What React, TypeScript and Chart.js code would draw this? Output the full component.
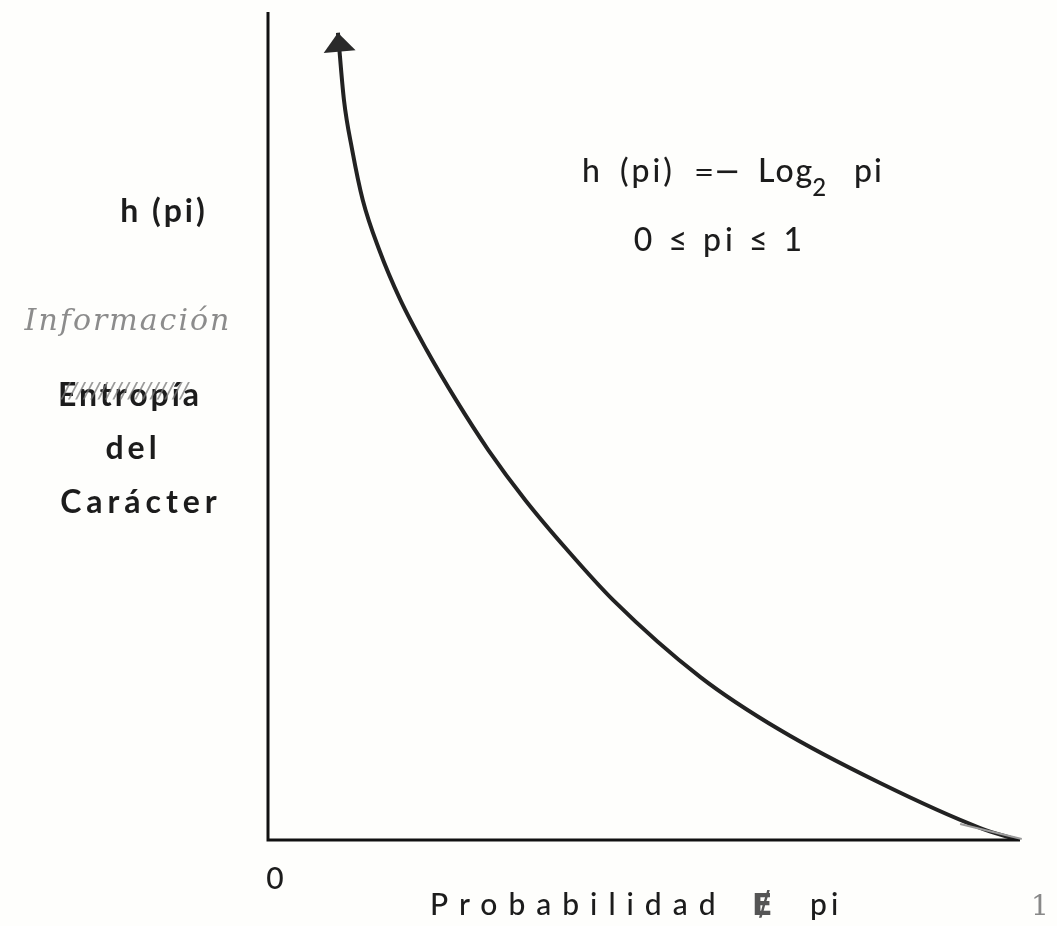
import React, { useEffect, useRef } from "react";
import { Chart, registerables } from "chart.js";

Chart.register(...registerables);

// Probability values (x)
const probabilities = [
  0.093, 0.101, 0.112, 0.126, 0.148, 0.176, 0.211, 0.25, 0.293, 0.342, 0.398, 0.459, 0.575, 0.681, 0.814, 0.947, 0.997,
];
// Information h(pi) values (y) (arbitrary units, axis 0..4)
const information = [
  3.9, 3.575, 3.333, 3.092, 2.85, 2.609, 2.367, 2.126, 1.884, 1.643, 1.401, 1.159, 0.787, 0.531, 0.275, 0.058, 0,
];

const yLabelLines = ["h (pi)", "Información", "Entropía", "del", "Carácter"];
const formulaParts = ["h", "(pi)", "=", "−", "Log", "2", "pi"];
const rangeLabel = "0 ≤ pi ≤ 1";
const xLabel = ["Probabilidad", "Ɇ", "pi"];
const xTickLabels = ["0", "1"];

const INK = "#1c1c1c";

const drawPlugin = {
  id: "handDrawn",
  beforeDraw(chart: any) {
    const ctx = chart.ctx;
    ctx.save();
    ctx.fillStyle = "#fefefc";
    ctx.fillRect(0, 0, chart.width, chart.height);
    ctx.restore();
  },
  afterDatasetsDraw(chart: any) {
    const ctx = chart.ctx;
    const { left, right, top, bottom } = chart.chartArea;
    ctx.save();
    // axes
    ctx.strokeStyle = "#111";
    ctx.lineWidth = 3;
    ctx.lineCap = "butt";
    ctx.beginPath();
    ctx.moveTo(left, top);
    ctx.lineTo(left, bottom);
    ctx.lineTo(right, bottom);
    ctx.stroke();

    // arrowhead at the first point of the curve
    const meta = chart.getDatasetMeta(0);
    const p0 = meta.data[0];
    const p1 = meta.data[1];
    const ang = Math.atan2(p0.y - p1.y, p0.x - p1.x);
    const len = 19;
    const half = 16;
    const bx = p0.x - Math.cos(ang) * len;
    const by = p0.y - Math.sin(ang) * len;
    const nx = -Math.sin(ang);
    const ny = Math.cos(ang);
    ctx.fillStyle = "#2a2a2a";
    ctx.beginPath();
    ctx.moveTo(p0.x, p0.y);
    ctx.lineTo(bx + nx * half, by + ny * half);
    ctx.lineTo(bx - nx * half, by - ny * half);
    ctx.closePath();
    ctx.fill();

    // small grey pencil arrow near the end of the curve
    const pe = meta.data[meta.data.length - 1];
    const pm = meta.data[meta.data.length - 2];
    ctx.strokeStyle = "#9a9a9a";
    ctx.lineWidth = 2;
    ctx.beginPath();
    ctx.moveTo(pm.x - 20, pm.y - 4);
    ctx.lineTo(pe.x + 4, pe.y - 1);
    ctx.stroke();

    // texts
    ctx.fillStyle = INK;
    ctx.textBaseline = "alphabetic";
    ctx.textAlign = "center";

    // left label block
    ctx.font = "bold 32px Lato";
    (ctx as any).letterSpacing = "3px";
    ctx.fillText(yLabelLines[0], 164, 222);

    ctx.save();
    ctx.fillStyle = "#8c8c8c";
    ctx.font = "italic 300 30px 'DejaVu Serif'";
    (ctx as any).letterSpacing = "2px";
    ctx.fillText(yLabelLines[1], 128, 330);
    ctx.restore();

    ctx.font = "bold 32px Lato";
    (ctx as any).letterSpacing = "3px";
    ctx.fillText(yLabelLines[2], 130, 406);
    ctx.save();
    ctx.fillStyle = "rgba(120,120,120,0.75)";
    ctx.font = "italic 22px 'DejaVu Sans'";
    (ctx as any).letterSpacing = "0px";
    ctx.fillText("/////////////////", 125, 398);
    ctx.restore();
    ctx.font = "bold 32px Lato";
    (ctx as any).letterSpacing = "4px";
    ctx.fillText(yLabelLines[3], 133, 459);
    (ctx as any).letterSpacing = "5px";
    ctx.fillText(yLabelLines[4], 141, 513);

    // formula
    ctx.textAlign = "left";
    ctx.font = "500 32px Lato";
    (ctx as any).letterSpacing = "3px";
    ctx.fillText(formulaParts[0], 582, 182);
    ctx.fillText(formulaParts[1], 620, 182);
    ctx.font = "24px 'DejaVu Sans'";
    (ctx as any).letterSpacing = "0px";
    ctx.fillText(formulaParts[2], 694, 180);
    ctx.font = "32px 'DejaVu Sans'";
    ctx.fillText(formulaParts[3], 714, 182);
    ctx.font = "500 32px Lato";
    (ctx as any).letterSpacing = "2px";
    ctx.fillText(formulaParts[4], 758, 182);
    const logW = ctx.measureText(formulaParts[4]).width;
    ctx.font = "500 24px Lato";
    ctx.fillText(formulaParts[5], 756 + logW, 196);
    ctx.font = "500 32px Lato";
    ctx.fillText(formulaParts[6], 854, 182);

    ctx.textAlign = "center";
    ctx.font = "500 32px Lato";
    (ctx as any).letterSpacing = "4px";
    ctx.fillText(rangeLabel, 720, 251);

    // x axis texts
    ctx.font = "500 30px Lato";
    (ctx as any).letterSpacing = "0px";
    ctx.fillText(xTickLabels[0], 275, 889);

    ctx.textAlign = "left";
    ctx.font = "500 30px Lato";
    (ctx as any).letterSpacing = "11px";
    ctx.fillText(xLabel[0], 430, 915);
    ctx.save();
    ctx.fillStyle = "#555";
    ctx.font = "bold 30px 'DejaVu Sans'";
    (ctx as any).letterSpacing = "0px";
    ctx.fillText(xLabel[1], 752, 915);
    ctx.restore();
    ctx.font = "500 30px Lato";
    (ctx as any).letterSpacing = "4px";
    ctx.fillText(xLabel[2], 810, 915);

    ctx.save();
    ctx.fillStyle = "#888";
    ctx.font = "28px 'DejaVu Serif'";
    (ctx as any).letterSpacing = "0px";
    ctx.textAlign = "center";
    ctx.fillText(xTickLabels[1], 1040, 915);
    ctx.restore();

    ctx.restore();
  },
};

export default function App() {
  const canvasRef = useRef<HTMLCanvasElement | null>(null);

  useEffect(() => {
    if (!canvasRef.current) return;
    const chart = new Chart(canvasRef.current, {
      type: "line",
      data: {
        datasets: [
          {
            data: probabilities.map((p, i) => ({ x: p, y: information[i] })),
            borderColor: "#222",
            borderWidth: 4,
            pointRadius: 0,
            cubicInterpolationMode: "monotone",
            fill: false,
          },
        ],
      },
      options: {
        responsive: false,
        animation: false,
        layout: { padding: { left: 268, right: 37, top: 12, bottom: 86 } },
        plugins: { legend: { display: false }, tooltip: { enabled: false } },
        scales: {
          x: { type: "linear", min: 0, max: 1, display: false },
          y: { type: "linear", min: 0, max: 4, display: false },
        },
      },
      plugins: [drawPlugin],
    });
    return () => chart.destroy();
  }, []);

  return (
    <div style={{ position: "absolute", left: 0, top: 0, width: 1057, height: 926 }}>
      <canvas ref={canvasRef} width={1057} height={926} />
    </div>
  );
}
